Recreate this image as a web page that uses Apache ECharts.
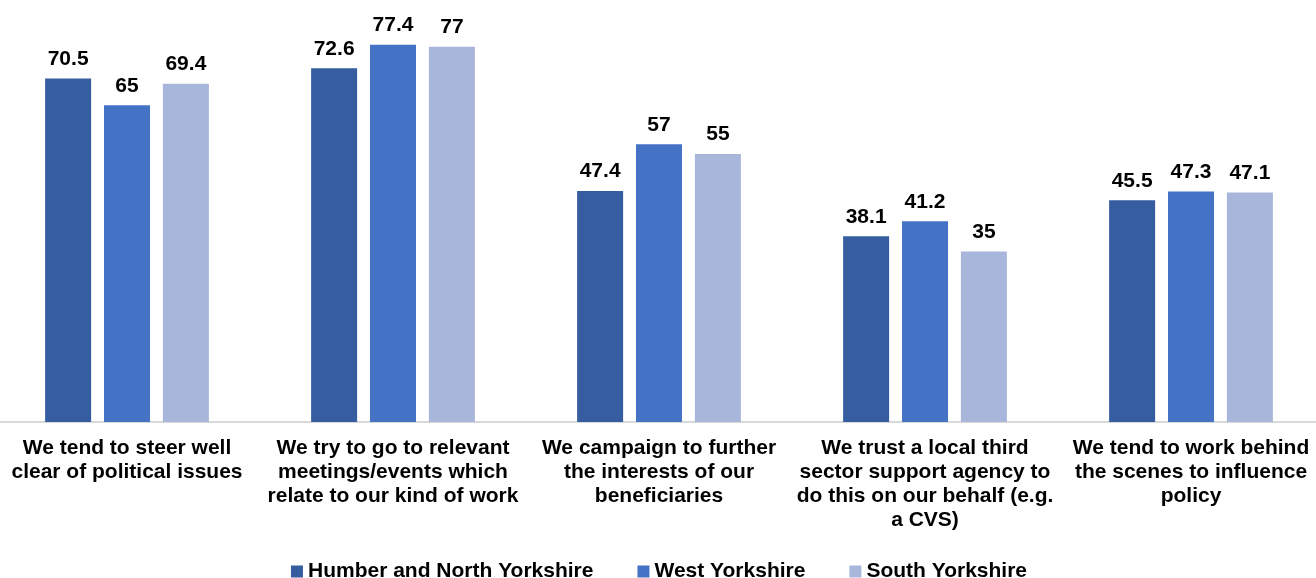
<!DOCTYPE html>
<html>
<head>
<meta charset="utf-8">
<script src="https://cdn.jsdelivr.net/npm/echarts@6/dist/echarts.min.js"></script>
<style>
  html, body { margin: 0; padding: 0; background: #fff; overflow: hidden; }
  /* plot area in the original runs a few px past both window edges */
  #chart { position: absolute; left: -6px; top: 0; width: 1330px; height: 578px; }
</style>
</head>
<body>
<div id="chart"></div>
<script>
// statements, wrapped as on the original axis
const categories = [
  'We tend to steer well\nclear of political issues',
  'We try to go to relevant\nmeetings/events which\nrelate to our kind of work',
  'We campaign to further\nthe interests of our\nbeneficiaries',
  'We trust a local third\nsector support agency to\ndo this on our behalf (e.g.\na CVS)',
  'We tend to work behind\nthe scenes to influence\npolicy'
];

const humberNorth = [70.5, 72.6, 47.4, 38.1, 45.5];
const westYorks = [65, 77.4, 57, 41.2, 47.3];
const southYorks = [69.4, 77, 55, 35, 47.1];

const seriesNames = ['Humber and North Yorkshire', 'West Yorkshire', 'South Yorkshire'];
const colors = ['#355D9F', '#4472C4', '#A9B6DB'];

const chart = echarts.init(document.getElementById('chart'));

const font = 'Liberation Sans, Arial, sans-serif';

function bar(name, data, color) {
  return {
    name: name,
    type: 'bar',
    data: data,
    barWidth: 46,
    barGap: '28%',
    itemStyle: { color: color },
    label: {
      show: true,
      position: 'top',
      distance: 9,
      color: '#000',
      fontFamily: font,
      fontWeight: 'bold',
      fontSize: 21
    }
  };
}

chart.setOption({
  animation: false,
  color: colors,
  grid: { left: 0, right: 0, top: 0, bottom: 156 },
  legend: {
    top: 556,
    left: 'center',
    itemWidth: 12,
    itemHeight: 12,
    itemGap: 44,
    icon: 'rect',
    textStyle: { fontFamily: font, fontWeight: 'bold', fontSize: 21, color: '#000' },
    data: seriesNames
  },
  xAxis: {
    type: 'category',
    data: categories,
    axisTick: { show: false },
    axisLine: { lineStyle: { color: '#D9D9D9', width: 2 } },
    axisLabel: {
      interval: 0,
      margin: 14,
      color: '#000',
      fontFamily: font,
      fontWeight: 'bold',
      fontSize: 21,
      lineHeight: 24
    }
  },
  yAxis: {
    type: 'value',
    min: 0,
    max: 86.6,
    show: false,
    splitLine: { show: false }
  },
  series: [
    bar(seriesNames[0], humberNorth, colors[0]),
    bar(seriesNames[1], westYorks, colors[1]),
    bar(seriesNames[2], southYorks, colors[2])
  ]
});
</script>
</body>
</html>
